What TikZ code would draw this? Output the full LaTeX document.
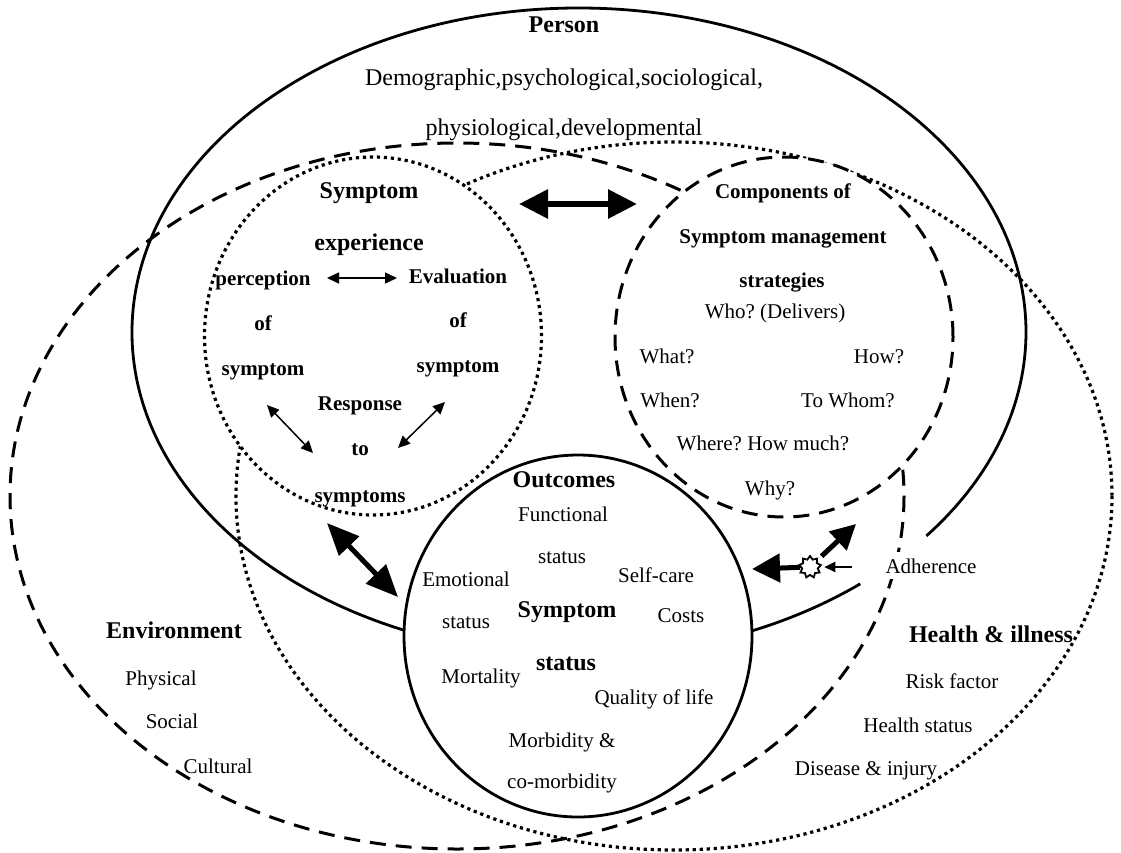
\documentclass[tikz,border=0pt]{standalone}
\usepackage{fontspec}
\setmainfont{Liberation Serif}
\usetikzlibrary{arrows.meta,shapes.geometric}
\frenchspacing

\begin{document}
\begin{tikzpicture}[x=1pt, y=-1pt,
        title/.style={font=\fontsize{24}{24}\selectfont\bfseries, anchor=base},
        sub/.style={font=\fontsize{21}{21}\selectfont\bfseries, anchor=base},
        item/.style={font=\fontsize{21}{21}\selectfont, anchor=base},
        bigitem/.style={font=\fontsize{24}{24}\selectfont, anchor=base},
        solidline/.style={line width=2.8pt},
        dashline/.style={line width=3pt, dash pattern=on 16pt off 10pt},
        dotline/.style={line width=3.2pt, dash pattern=on 3.2pt off 3.8pt},
        circ/.style={draw, ellipse, fill=white, inner sep=0pt},
        fatarrow/.style={line width=6pt, {Triangle[length=29pt,width=28pt]}-{Triangle[length=29pt,width=28pt]}},
        thinarrow/.style={line width=1.5pt, {Triangle[length=12pt,width=11pt]}-{Triangle[length=12pt,width=11pt]}}]
    \useasboundingbox (0,0) rectangle (1121,852);
    % environment, health and person
    \draw[dashline] (457,496) ellipse [x radius=447, y radius=353];
    \draw[dotline] (674,496) ellipse [x radius=438, y radius=354];
    \draw[solidline] (579,332) ++(51:447 and 324) arc [start angle=51, end angle=399, x radius=447, y radius=324];
    % the three inner circles
    \node[circ, dotline, minimum width=337pt, minimum height=358pt] (sympcirc) at (373,336) {};
    \node[circ, dashline, minimum width=338pt, minimum height=360pt] (compcirc) at (784,337) {};
    \node[circ, solidline, minimum width=348pt, minimum height=362pt] (outcirc) at (578,636) {};
    % person
    \node[title] (person) at (564,32) {Person};
    \node[bigitem] (persDemo) at (564,85) {Demographic,psychological,sociological,};
    \node[bigitem] (persPhys) at (564,135) {physiological,developmental};
    % symptom experience
    \node[title] (sympTitle) at (369,198) {Symptom};
    \node[title] (sympExp) at (369,250) {experience};
    \node[sub] (perc) at (263,285) {perception};
    \node[sub] (percOf) at (263,330) {of};
    \node[sub] (percSym) at (263,375) {symptom};
    \node[sub] (eval) at (458,283) {Evaluation};
    \node[sub] (evalOf) at (458,327) {of};
    \node[sub] (evalSym) at (458,372) {symptom};
    \node[sub] (resp) at (360,410) {Response};
    \node[sub] (respTo) at (360,455) {to};
    \node[sub] (respSym) at (360,502) {symptoms};
    \coordinate (pcA) at (327,278);
    \coordinate (pcB) at (397,278);
    \coordinate (rsA) at (267,405);
    \coordinate (rsB) at (313,453);
    \coordinate (evA) at (445,402);
    \coordinate (evB) at (398,448);
    \draw[thinarrow] (pcA) -- (pcB);
    \draw[thinarrow] (rsA) -- (rsB);
    \draw[thinarrow] (evA) -- (evB);
    % management strategies
    \node[sub] (compTitle) at (783,198) {Components of};
    \node[sub] (compMgmt) at (783,243) {Symptom management};
    \node[sub] (compStrat) at (782,287) {strategies};
    \node[item] (who) at (775,318) {Who? (Delivers)};
    \node[item] (what) at (667,363) {What?};
    \node[item] (how) at (879,363) {How?};
    \node[item] (when) at (670,407) {When?};
    \node[item] (toWhom) at (848,407) {To Whom?};
    \node[item] (where) at (763,450) {Where? How much?};
    \node[item] (why) at (770,495) {Why?};
    % outcomes
    \node[title] (outTitle) at (564,487) {Outcomes};
    \node[item] (outFunc) at (563,521) {Functional};
    \node[item] (outFuncSt) at (562,563) {status};
    \node[item] (outSelf) at (656,582) {Self-care};
    \node[item] (outEmo) at (466,586) {Emotional};
    \node[title] (outSym) at (567,617) {Symptom};
    \node[item] (outCosts) at (681,622) {Costs};
    \node[item] (outEmoSt) at (466,628) {status};
    \node[title] (outSymSt) at (566,670) {status};
    \node[item] (outMort) at (481,683) {Mortality};
    \node[item] (outQol) at (654,704) {Quality of life};
    \node[item] (outMorb) at (562,747) {Morbidity \&};
    \node[item] (outComorb) at (562,788) {co-morbidity};
    % environment
    \node[title] (envTitle) at (174,638) {Environment};
    \node[item] (envPhys) at (161,685) {Physical};
    \node[item] (envSoc) at (172,728) {Social};
    \node[item] (envCult) at (218,773) {Cultural};
    % health and illness
    \node[title] (hiTitle) at (991,642) {Health \& illness};
    \node[item] (hiRisk) at (952,688) {Risk factor};
    \node[item] (hiStat) at (918,732) {Health status};
    \node[item] (hiDis) at (866,775) {Disease \& injury};
    % links between the circles
    \coordinate (seA) at (519,204);
    \coordinate (seB) at (637,204);
    \coordinate (soA) at (327,523);
    \coordinate (soB) at (398,597);
    \draw[fatarrow] (seA) -- (seB);
    \draw[line width=5pt, {Triangle[length=32pt,width=27pt]}-{Triangle[length=32pt,width=27pt]}] (soA) -- (soB);
    % adherence
    \node[item, fill=white, inner sep=6pt] (adh) at (931,573) {Adherence};
    \node[star, star points=9, star point ratio=1.4, draw, fill=white, line width=1.8pt, minimum size=22pt, inner sep=0pt] (burst) at (810,567) {};
    \coordinate (adhA) at (852,567);
    \coordinate (outTip) at (752,569);
    \coordinate (compTip) at (856,524);
    \draw[line width=5pt, -{Triangle[length=28pt,width=28pt]}] (burst) -- (outTip);
    \draw[line width=2pt, -{Triangle[length=11pt,width=10pt]}, shorten >=4pt] (adhA) -- (burst);
    \draw[line width=5pt, -{Triangle[length=25pt,width=25pt]}, shorten <=5pt] (burst) -- (compTip);
\end{tikzpicture}
\end{document}
